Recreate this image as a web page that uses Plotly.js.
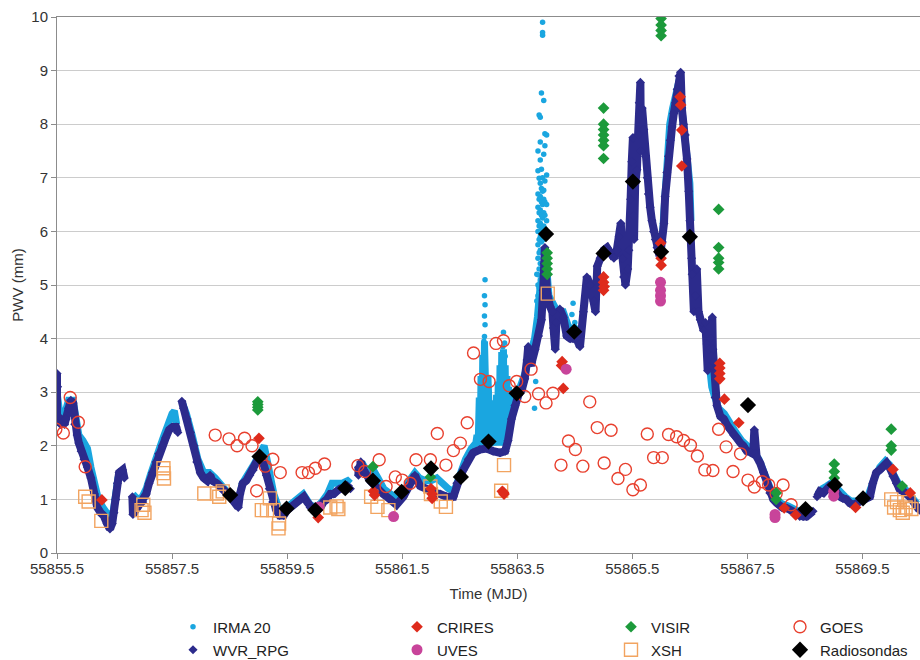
<!DOCTYPE html>
<html>
<head>
<meta charset="utf-8">
<script src="https://cdn.plot.ly/plotly-3.0.1.min.js"></script>
<style>html,body{margin:0;padding:0;background:#fff;}#chart{width:920px;height:660px;}</style>
</head>
<body>
<div id="chart"></div>
<script>
// ---------------- DATA ----------------
const wvrTime = [
55855.50,55855.50,55855.51,55855.53,55855.56,55855.60,55855.63,55855.66,55855.70,55855.74,55855.78,55855.81,55855.85,55855.88,55855.92,55855.97,55856.03,55856.09,55856.15,55856.20,55856.26,55856.31,55856.37,55856.42,55856.46,55856.49,55856.52,55856.55,55856.58,55856.64,55856.67,null,
55856.81,55856.82,55856.87,55856.93,55856.99,55857.05,55857.10,55857.16,55857.22,55857.27,55857.33,55857.39,55857.45,55857.51,55857.57,55857.60,null,
55857.67,55857.70,55857.76,55857.82,55857.88,55857.93,55857.99,55858.05,55858.11,55858.16,55858.20,55858.28,55858.33,55858.39,55858.45,55858.51,55858.58,55858.65,55858.68,55858.73,55858.79,55858.85,55858.91,55858.97,55859.02,55859.08,55859.14,55859.19,55859.25,55859.31,55859.37,55859.44,55859.50,55859.56,55859.62,55859.67,55859.73,55859.79,55859.85,55859.90,55859.96,55860.02,55860.08,55860.13,55860.19,55860.25,55860.31,55860.36,55860.42,55860.48,55860.54,55860.60,null,
55860.74,55860.74,55860.78,55860.83,55860.94,55861.06,55861.17,55861.29,55861.40,55861.52,55861.63,55861.72,55861.81,55861.90,55861.98,55862.07,55862.16,55862.27,55862.39,55862.45,55862.50,55862.56,55862.65,55862.73,55862.85,55862.97,55863.08,55863.20,55863.29,55863.34,55863.40,55863.46,55863.52,55863.58,55863.63,55863.67,55863.69,55863.72,55863.75,55863.81,55863.87,55863.92,55863.95,55863.97,55863.98,55864.00,55864.02,55864.07,55864.11,55864.13,55864.16,55864.18,55864.24,55864.30,55864.36,55864.42,55864.47,55864.53,55864.59,55864.65,55864.71,55864.77,55864.83,55864.86,55864.89,55864.94,55865.00,55865.06,55865.12,55865.18,55865.23,55865.27,55865.30,55865.33,55865.35,55865.38,55865.42,55865.44,55865.47,55865.49,55865.51,55865.52,55865.53,55865.55,55865.58,55865.60,55865.62,55865.64,55865.65,55865.67,55865.70,55865.73,55865.76,55865.78,55865.81,55865.84,55865.87,55865.90,55865.93,55865.96,55865.99,55866.02,55866.05,55866.07,55866.10,55866.13,55866.16,55866.19,55866.22,55866.25,55866.28,55866.31,55866.34,55866.36,55866.39,55866.42,55866.45,55866.48,55866.50,55866.51,55866.53,55866.54,55866.57,55866.60,55866.62,55866.65,55866.68,55866.71,55866.74,55866.77,55866.80,55866.81,55866.83,55866.86,55866.89,55866.90,55866.91,55866.94,55866.97,55867.03,55867.09,55867.15,55867.20,55867.26,55867.32,55867.38,55867.43,55867.49,55867.55,55867.60,55867.62,55867.64,55867.66,55867.72,55867.78,55867.84,55867.89,55867.95,55868.01,55868.07,55868.12,55868.18,55868.24,55868.30,55868.36,55868.41,55868.47,55868.53,55868.59,55868.64,null,
55868.71,55868.76,55868.82,55868.88,55868.93,55868.99,55869.05,55869.11,55869.16,55869.22,55869.28,55869.34,55869.40,55869.45,55869.51,55869.57,55869.63,55869.68,55869.74,55869.80,55869.86,55869.92,55869.97,55870.03,55870.09,55870.15,55870.21,55870.26,55870.32,55870.38,55870.44,55870.49
];
const wvrPwv = [
3.35,2.5,3.1,2.55,2.4,2.45,2.4,2.5,2.7,2.85,2.8,2.4,2.2,2.05,1.9,1.75,1.6,1.4,1.1,0.85,0.75,0.7,0.55,0.45,0.55,0.75,1.0,1.3,1.5,1.55,1.4,null,
1.05,0.72,0.8,0.9,0.95,1.1,1.3,1.5,1.7,1.85,2.0,2.15,2.3,2.35,2.35,2.25,null,
2.83,2.7,2.5,2.25,2.0,1.7,1.5,1.4,1.35,1.45,1.35,1.3,1.25,1.2,1.1,1.05,0.95,0.85,1.1,1.3,1.35,1.45,1.55,1.7,1.8,1.7,1.45,1.2,0.95,0.8,0.7,0.7,0.8,0.85,0.9,0.95,1.0,1.05,0.95,0.85,0.8,0.8,0.85,0.95,1.0,1.1,1.1,1.15,1.2,1.2,1.25,1.2,null,
1.6,1.45,1.7,1.55,1.35,1.2,1.1,1.0,0.9,1.05,1.3,1.45,1.25,1.2,1.15,1.12,1.1,1.05,1.05,1.3,1.4,1.55,1.75,1.87,1.93,1.95,1.9,1.87,1.9,2.1,2.5,2.75,2.95,3.05,3.25,3.6,3.85,3.55,3.55,3.8,4.05,4.35,4.9,5.4,5.7,5.2,4.85,4.6,4.5,4.2,3.8,4.3,4.55,4.4,4.05,4.0,4.0,4.0,3.85,4.5,5.15,5.0,4.7,4.5,5.35,5.5,5.65,5.7,5.6,5.5,5.65,5.9,6.15,5.5,5.15,5.0,5.3,5.65,6.6,7.3,7.75,6.3,5.85,6.9,7.15,7.8,8.4,8.78,7.5,8.3,7.9,7.4,7.0,6.7,6.45,6.2,6.0,5.85,5.7,5.6,5.6,5.8,6.15,6.65,7.1,7.4,7.7,7.95,8.2,8.4,8.65,8.9,8.97,8.3,8.0,7.8,7.35,6.75,6.2,5.95,5.5,5.2,4.5,4.8,5.3,4.5,4.35,4.3,4.15,4.3,3.9,3.4,3.8,4.0,4.4,3.8,3.55,2.9,2.75,2.55,2.5,2.38,2.3,2.2,2.15,2.05,2.0,1.9,1.88,1.85,2.3,1.85,1.8,1.68,1.5,1.3,1.12,1.0,0.93,0.87,0.84,0.84,0.8,0.75,0.72,0.68,0.68,0.68,0.75,0.78,null,
1.05,1.15,1.12,1.18,1.25,1.22,1.12,1.05,1.02,1.0,0.93,0.9,0.93,0.96,1.0,1.02,1.05,1.3,1.5,1.55,1.6,1.68,1.6,1.43,1.3,1.18,1.15,1.12,1.05,0.96,0.87,0.8
];

// IRMA 20: continuous stretch (drawn as a band) and isolated readings (dots)
const irmaBandTime = [
55855.50,55855.55,55855.62,55855.70,55855.78,55855.82,55855.88,55855.95,55856.03,55856.09,55856.15,55856.22,55856.30,55856.38,55856.43,55856.48,55856.52,55856.56,55856.62,55856.66,null,
55856.82,55856.90,55856.98,55857.05,55857.12,55857.20,55857.28,55857.36,55857.44,55857.50,55857.54,55857.58,null,
55857.68,55857.75,55857.85,55857.95,55858.05,55858.15,55858.25,55858.35,55858.45,55858.55,55858.65,55858.72,55858.82,55858.92,55859.02,55859.10,55859.15,55859.20,55859.27,55859.35,55859.45,55859.55,55859.65,55859.78,55859.90,55860.00,55860.10,55860.20,55860.28,55860.35,55860.45,55860.55,55860.60,null,
55860.75,55860.82,55860.90,55861.00,55861.08,55861.18,55861.30,55861.42,55861.52,55861.62,55861.72,55861.80,55861.90,55862.00,55862.10,55862.20,55862.30,55862.40,55862.50,55862.60,55862.70,55862.78,
55862.800,55862.820,55862.840,55862.855,55862.870,55862.885,55862.900,55862.915,55862.930,55862.945,55862.960,55862.975,55862.990,55863.005,55863.020,55863.035,55863.050,55863.065,55863.080,55863.095,55863.110,55863.125,55863.140,55863.155,55863.170,55863.185,55863.200,55863.215,55863.230,55863.245,55863.260,55863.275,55863.290,55863.305,55863.320,55863.335,55863.350,55863.365,55863.380,55863.395,55863.410,
55863.45,55863.52,55863.58,55863.65,55863.72,55863.80,55863.85,55863.90,55863.95,55864.00,55864.05,55864.10,55864.20,55864.30,55864.40,55864.50,55864.55,null,
55865.97,55866.02,55866.05,55866.08,55866.12,55866.15,55866.20,55866.28,55866.33,55866.37,55866.40,55866.44,55866.47,55866.50,55866.52,null,
55866.80,55866.82,55866.85,55866.88,55866.92,55866.96,55867.00,55867.10,55867.20,55867.30,55867.40,55867.50,55867.60,55867.70,55867.78,55867.85,55867.92,55868.00,55868.10,55868.20,55868.30,55868.40,55868.50,55868.60,null,
55868.72,55868.80,55868.88,55868.95,55869.02,55869.10,55869.20,55869.30,55869.40,55869.50,55869.60,55869.70,55869.80,55869.90,55869.97,55870.05,55870.15,55870.25,55870.35,55870.45
];
const irmaBandPwv = [
3.0,2.6,2.55,2.85,2.85,2.5,2.2,2.1,1.95,1.6,1.3,1.0,0.85,0.75,0.65,0.8,1.1,1.4,1.55,1.45,null,
1.1,1.0,1.05,1.2,1.45,1.75,1.95,2.2,2.45,2.6,2.65,2.4,null,
2.8,2.6,2.2,1.75,1.5,1.5,1.4,1.25,1.15,1.05,0.95,1.3,1.45,1.65,1.85,2.0,1.75,1.45,1.1,0.85,0.78,0.9,1.0,1.1,0.9,0.85,0.95,1.1,1.3,1.3,1.3,1.35,1.3,null,
1.65,1.65,1.5,1.55,1.4,1.2,1.1,1.0,1.1,1.35,1.5,1.4,1.35,1.35,1.4,1.3,1.2,1.15,1.5,1.75,1.95,2.05,
2.2,2.0,2.9,2.0,3.3,2.0,3.7,2.0,3.95,2.0,3.7,2.0,3.3,2.0,3.05,2.0,2.85,2.0,2.7,2.0,2.75,2.0,2.95,2.0,3.2,2.0,3.5,2.0,3.75,2.0,3.8,2.0,3.5,2.05,3.3,2.1,3.1,2.3,2.95,2.5,2.85,
2.8,3.0,3.15,3.4,3.7,4.0,4.4,5.0,5.2,5.5,4.8,4.7,4.5,4.5,4.2,4.2,4.1,null,
5.75,5.85,6.4,7.0,7.6,8.0,8.3,8.7,8.9,8.2,7.9,7.6,7.2,6.9,6.2,null,
3.9,3.65,3.35,3.1,2.95,2.8,2.7,2.6,2.4,2.25,2.1,2.0,1.9,1.75,1.55,1.3,1.15,1.02,0.92,0.88,0.82,0.75,0.72,0.78,null,
1.1,1.2,1.25,1.3,1.25,1.15,1.05,0.97,0.97,1.03,1.08,1.38,1.6,1.72,1.65,1.45,1.25,1.18,1.05,0.92
];
const irmaTime = [
55862.92,55862.93,55862.94,55862.93,55862.94,55862.93,55862.94,
55863.25,55863.26,55863.28,55863.29,
55863.80,55863.82,55863.83,55863.84,55863.84,
55863.86,55863.86,55863.86,55863.86,55863.86,55863.86,55863.86,55863.86,55863.86,55863.86,55863.86,55863.86,55863.86,
55863.88,55863.88,55863.88,55863.88,55863.88,55863.88,55863.88,55863.88,55863.88,55863.88,55863.88,
55863.90,55863.90,55863.90,55863.90,55863.90,55863.90,55863.90,55863.90,55863.90,55863.90,55863.90,55863.90,55863.90,
55863.92,55863.92,55863.92,55863.92,55863.92,55863.92,55863.92,
55863.94,55863.94,55863.94,55863.94,55863.94,55863.94,55863.94,55863.94,
55863.96,55863.96,55863.96,55863.96,55863.96,55863.96,55863.96,
55863.98,55863.98,55863.98,55863.98,55863.98,55863.98,
55864.01,55864.01,55864.01,55864.01,
55864.45,55864.47,55864.50
];
const irmaPwv = [
3.95,4.04,4.26,4.42,4.63,4.8,5.1,
3.85,4.12,3.92,3.67,
2.7,3.2,4.0,4.7,5.2,
4.3,4.55,4.8,5.0,5.19,5.5,5.75,6.0,6.2,6.45,6.7,7.13,7.5,
4.45,4.7,4.95,5.3,5.6,5.85,6.1,6.35,6.6,6.99,8.17,
4.6,4.85,5.1,5.4,5.65,5.9,6.15,6.4,6.65,6.9,7.33,7.67,8.13,
5.8,6.05,6.3,6.55,6.8,7.16,8.58,
6.0,6.25,6.5,6.75,7.0,9.66,9.71,9.9,
5.85,6.1,6.35,6.6,6.77,7.44,8.44,
6.05,6.3,6.55,6.94,7.6,7.82,
6.2,6.5,7.05,7.8,
4.45,4.66,4.3
];

const criresTime = [55856.28,55859.01,55860.04,55861.00,55861.02,55862.00,55862.02,55862.02,55863.24,55863.27,55863.26,55864.28,55864.27,55864.30,55865.00,55865.00,55865.01,55865.00,55865.99,55866.00,55866.00,55866.33,55866.34,55866.36,55866.36,55867.02,55867.02,55867.02,55867.02,55867.10,55867.35,55868.14,55868.34,55869.38,55870.03,55870.33];
const criresPwv = [0.99,2.14,0.66,1.15,1.08,1.2,1.1,1.02,1.15,1.1,1.13,3.57,3.5,3.07,5.15,5.05,4.97,4.9,5.78,5.5,5.37,8.51,8.36,7.89,7.22,3.54,3.45,3.35,3.25,2.87,2.43,0.84,0.71,0.85,1.56,1.12];

const visirTime = [55858.99,55858.99,55858.99,55858.99,55860.99,55861.99,55864.02,55864.02,55864.02,55864.02,55864.02,55865.00,55865.00,55865.00,55865.00,55865.00,55865.00,55865.00,55866.00,55866.00,55866.00,55866.00,55867.00,55867.00,55867.00,55867.00,55867.00,55868.00,55868.00,55869.01,55869.01,55869.01,55870.00,55870.00,55870.00,55870.19];
const visirPwv = [2.82,2.77,2.72,2.67,1.61,1.42,5.6,5.5,5.4,5.3,5.2,8.3,8.0,7.9,7.8,7.7,7.6,7.36,9.97,9.85,9.75,9.65,6.41,5.7,5.5,5.42,5.3,1.12,1.0,1.66,1.52,1.4,2.31,2.0,1.92,1.25];

const goesTime = [55855.48,55855.61,55855.73,55855.87,55855.99,55858.25,55858.49,55858.63,55858.76,55858.89,55858.97,55859.12,55859.25,55859.38,55859.76,55859.87,55859.99,55860.15,55860.73,55860.85,55861.10,55861.22,55861.38,55861.50,55861.64,55861.74,55861.99,55862.11,55862.26,55862.39,55862.51,55862.63,55862.74,55862.86,55863.01,55863.13,55863.26,55863.36,55863.49,55863.63,55863.74,55863.87,55864.00,55864.12,55864.26,55864.39,55864.51,55864.64,55864.76,55864.89,55865.01,55865.13,55865.25,55865.38,55865.51,55865.64,55865.76,55865.87,55866.02,55866.13,55866.27,55866.39,55866.51,55866.63,55866.76,55866.90,55867.00,55867.13,55867.25,55867.38,55867.51,55867.62,55867.76,55867.87,55868.00,55868.12,55868.26];
const goesPwv = [2.31,2.24,2.9,2.44,1.61,2.2,2.13,2.0,2.14,2.0,1.16,1.62,1.75,1.5,1.5,1.5,1.58,1.66,1.63,1.52,1.74,1.24,1.42,1.36,1.3,1.74,1.74,2.23,1.64,1.91,2.05,2.43,3.73,3.24,3.2,3.91,3.96,3.12,3.2,2.92,3.43,2.97,2.8,2.98,1.64,2.09,1.93,1.62,2.82,2.34,1.68,2.29,1.39,1.56,1.18,1.27,2.22,1.78,1.78,2.21,2.17,2.1,2.01,1.81,1.55,1.54,2.31,1.98,1.52,1.85,1.36,1.23,1.33,1.27,1.11,1.27,0.9];

const uvesTime = [55860.05,55861.35,55864.35,55865.99,55865.99,55865.99,55865.99,55867.98,55867.98,55869.00,55869.00];
const uvesPwv = [0.86,0.68,3.43,5.05,4.9,4.8,4.7,0.72,0.66,1.15,1.06];

const xshTime = [55855.99,55856.05,55856.27,55857.00,55856.97,55857.02,55857.35,55857.35,55857.36,55858.06,55858.28,55858.32,55858.38,55859.06,55859.15,55859.20,55859.26,55859.35,55859.36,55860.25,55860.36,55860.39,55860.96,55861.07,55861.26,55861.99,55862.00,55862.17,55862.26,55863.22,55863.27,55864.03,55870.00,55870.05,55870.10,55870.15,55870.20,55870.25,55870.30,55870.35];
const xshPwv = [1.05,0.96,0.6,0.9,0.8,0.75,1.58,1.49,1.39,1.11,1.11,1.05,1.15,0.8,0.8,1.02,0.8,0.46,0.55,0.85,0.87,0.82,1.05,0.86,0.8,1.24,1.1,0.96,0.86,1.16,1.64,4.84,1.0,0.85,0.95,0.8,0.75,0.85,0.95,0.82];

const sondeTime = [55858.51,55859.02,55859.49,55859.99,55860.51,55860.99,55861.49,55862.00,55862.52,55863.00,55863.49,55864.00,55864.49,55865.00,55865.51,55866.00,55866.50,55867.51,55868.51,55869.02,55869.51];
const sondePwv = [1.08,1.8,0.83,0.8,1.21,1.35,1.14,1.58,1.42,2.08,2.98,5.95,4.13,5.59,6.93,5.62,5.9,2.76,0.82,1.27,1.02];

const xTickVals = [55855.5,55857.5,55859.5,55861.5,55863.5,55865.5,55867.5,55869.5];
const xTickText = ['55855.5','55857.5','55859.5','55861.5','55863.5','55865.5','55867.5','55869.5'];
const seriesNames = ['IRMA 20','CRIRES','VISIR','GOES','WVR_RPG','UVES','XSH','Radiosondas'];

// ---------------- CHART ----------------
const FONT = 'Liberation Sans, Arial, Helvetica, sans-serif';
const C = {irma:'#1aa6e0', wvr:'#2c2b8c', crires:'#de2b1c', visir:'#1c9a3b', goes:'#e8402e', uves:'#c8449a', xsh:'#f2a460', sonde:'#000000'};

const traces = [
  {x: irmaBandTime, y: irmaBandPwv, type:'scatter', mode:'lines', connectgaps:false,
   line:{color:C.irma, width:7}, hoverinfo:'skip', showlegend:false, legendgroup:'irma'},
  {x: irmaTime, y: irmaPwv, type:'scatter', mode:'markers', name: seriesNames[0], legend:'legend', legendgroup:'irma',
   marker:{color:C.irma, size:5.5, symbol:'circle'}},
  {x: wvrTime, y: wvrPwv, type:'scatter', mode:'lines', connectgaps:false, showlegend:false, legendgroup:'wvr',
   line:{color:C.wvr, width:8}, hoverinfo:'skip'},
  {x: wvrTime, y: wvrPwv, type:'scatter', mode:'markers', name: seriesNames[4], legend:'legend5', legendgroup:'wvr',
   marker:{color:C.wvr, size:7, symbol:'diamond'}},
  {x: goesTime, y: goesPwv, type:'scatter', mode:'markers', name: seriesNames[3], legend:'legend4',
   marker:{symbol:'circle-open', size:12, color:C.goes, line:{width:1.4, color:C.goes}}},
  {x: xshTime, y: xshPwv, type:'scatter', mode:'markers', name: seriesNames[6], legend:'legend7',
   marker:{symbol:'square-open', size:13, color:C.xsh, line:{width:1.4, color:C.xsh}}},
  {x: criresTime, y: criresPwv, type:'scatter', mode:'markers', name: seriesNames[1], legend:'legend2',
   marker:{symbol:'diamond', size:9, color:C.crires}},
  {x: uvesTime, y: uvesPwv, type:'scatter', mode:'markers', name: seriesNames[5], legend:'legend6',
   marker:{symbol:'circle', size:11, color:C.uves}},
  {x: visirTime, y: visirPwv, type:'scatter', mode:'markers', name: seriesNames[2], legend:'legend3',
   marker:{symbol:'diamond', size:9, color:C.visir}},
  {x: sondeTime, y: sondePwv, type:'scatter', mode:'markers', name: seriesNames[7], legend:'legend8',
   marker:{symbol:'diamond', size:12.5, color:C.sonde}}
];

// legend placement: x in paper coords (plot area x 57..920 px), y in container coords (660 px tall)
function lg(textLeftPx, centerYPx) {
  return {x: (textLeftPx - 40 - 57) / 863, xref:'paper', y: (660 - centerYPx) / 660, yref:'container',
          xanchor:'left', yanchor:'middle',
          orientation:'v', bgcolor:'rgba(0,0,0,0)', borderwidth:0,
          font:{family:FONT, size:15, color:'#222'}, itemsizing:'trace'};
}
const colText = [213, 437, 651, 820];
const rowY = [627, 650];

const layout = {
  width:920, height:660,
  margin:{l:57, r:0, t:17, b:107, pad:0},
  paper_bgcolor:'#fff', plot_bgcolor:'#fff',
  font:{family:FONT, size:15, color:'#333'},
  xaxis:{range:[55855.5,55870.5], tickmode:'array', tickvals:xTickVals, ticktext:xTickText,
         showgrid:false, zeroline:false, showline:true, linecolor:'#8c8c8c', linewidth:1, mirror:true,
         ticks:'outside', ticklen:5, tickcolor:'#8c8c8c', tickfont:{family:FONT, size:15, color:'#333'},
         ticklabelstandoff:-3,
         title:{text:'Time (MJD)', font:{family:FONT, size:15, color:'#333'}, standoff:12}},
  yaxis:{range:[0,10], dtick:1, tick0:0, showgrid:true, gridcolor:'#cccccc', gridwidth:1, zeroline:false,
         showline:true, linecolor:'#8c8c8c', linewidth:1, ticks:'outside', ticklen:5, tickcolor:'#8c8c8c',
         tickfont:{family:FONT, size:15, color:'#333'},
         title:{text:'PWV (mm)', font:{family:FONT, size:15, color:'#333'}, standoff:4}},
  legend:lg(colText[0], rowY[0]),
  legend2:lg(colText[1], rowY[0]),
  legend3:lg(colText[2], rowY[0]),
  legend4:lg(colText[3], rowY[0]),
  legend5:lg(colText[0], rowY[1]),
  legend6:lg(colText[1], rowY[1]),
  legend7:lg(colText[2], rowY[1]),
  legend8:lg(colText[3], rowY[1]),
  showlegend:true
};

Plotly.newPlot('chart', traces, layout, {staticPlot:true, displayModeBar:false});
</script>
</body>
</html>
